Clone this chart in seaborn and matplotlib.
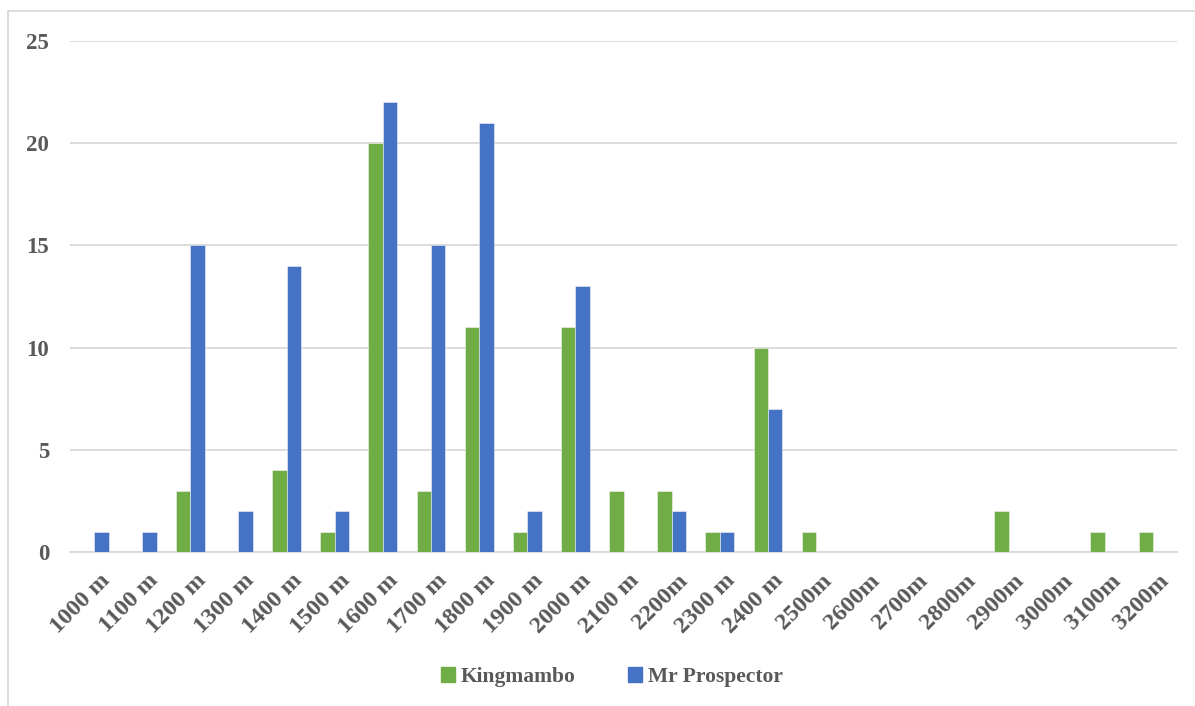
import matplotlib
matplotlib.use("Agg")
import matplotlib.pyplot as plt
import matplotlib.transforms as mtransforms
import seaborn as sns
import pandas as pd
from matplotlib.patches import Rectangle

distances = ["1000 m", "1100 m", "1200 m", "1300 m", "1400 m", "1500 m", "1600 m",
             "1700 m", "1800 m", "1900 m", "2000 m", "2100 m", "2200m", "2300 m",
             "2400 m", "2500m", "2600m", "2700m", "2800m", "2900m", "3000m",
             "3100m", "3200m"]
kingmambo = [0, 0, 3, 0, 4, 1, 20, 3, 11, 1, 11, 3, 3, 1, 10, 1, 0, 0, 0, 2, 0, 1, 1]
mr_prospector = [1, 1, 15, 2, 14, 2, 22, 15, 21, 2, 13, 0, 2, 1, 7, 0, 0, 0, 0, 0, 0, 0, 0]
series_names = ["Kingmambo", "Mr Prospector"]
y_ticks = [0, 5, 10, 15, 20, 25]

df = pd.DataFrame({
    "distance": distances * 2,
    "count": kingmambo + mr_prospector,
    "sire": [series_names[0]] * len(distances) + [series_names[1]] * len(distances),
})

sns.set_theme(style="white")
plt.rcParams["font.family"] = ["Liberation Serif", "DejaVu Serif"]
text_color = "#595959"
grid_color = "#D9D9D9"
colors = ["#70AD47", "#4472C4"]

fig = plt.figure(figsize=(11.95, 7.06), dpi=100)
ax = fig.add_axes([0.0586, 0.2181, 0.9264, 0.7238])

# chart-area frame
fig.patches.append(Rectangle((8 / 1195, -0.05), 1.2, 1 - 11 / 706 + 0.05,
                             transform=fig.transFigure, fill=False,
                             edgecolor=grid_color, linewidth=1.3, zorder=0))

sns.barplot(data=df, x="distance", y="count", hue="sire", order=distances,
            hue_order=series_names, palette=colors, saturation=1,
            width=0.6, gap=0, dodge=True, ax=ax, zorder=3,
            edgecolor="#f2f2f2", linewidth=0.4)

ax.set_ylim(0, 25)
ax.set_xlim(-0.5, len(distances) - 0.5)
ax.set_yticks(y_ticks)
ax.yaxis.grid(True, color=grid_color, linewidth=1.3, zorder=0)
ax.set_axisbelow(True)
for side in ["left", "right", "top"]:
    ax.spines[side].set_visible(False)
ax.spines["bottom"].set_color(grid_color)
ax.spines["bottom"].set_linewidth(1.3)
ax.tick_params(axis="both", length=0, colors=text_color)
ax.tick_params(axis="y", pad=15, labelsize=16.5)
ax.tick_params(axis="x", pad=13, labelsize=17.5)
for lbl in ax.get_yticklabels():
    lbl.set_fontweight("bold")
ax.set_xticks(range(len(distances)))
ax.set_xticklabels(distances, rotation=45, ha="right", rotation_mode="anchor",
                   fontweight="bold", color=text_color)
shift = mtransforms.ScaledTranslation(5 / 100, 0, fig.dpi_scale_trans)
for lbl in ax.get_xticklabels():
    lbl.set_transform(lbl.get_transform() + shift)
ax.set_xlabel("")
ax.set_ylabel("")

ax.legend_.remove()
handles = [Rectangle((0, 0), 1, 1, color=c) for c in colors]
leg = fig.legend(handles, series_names, loc="center", bbox_to_anchor=(0.512, 0.041),
                 ncol=2, frameon=False, handlelength=0.65, handleheight=0.65,
                 handletextpad=0.3, columnspacing=2.4,
                 prop={"weight": "bold", "size": 15.5})
for t in leg.get_texts():
    t.set_color(text_color)

fig.savefig("out.png", dpi=100)
